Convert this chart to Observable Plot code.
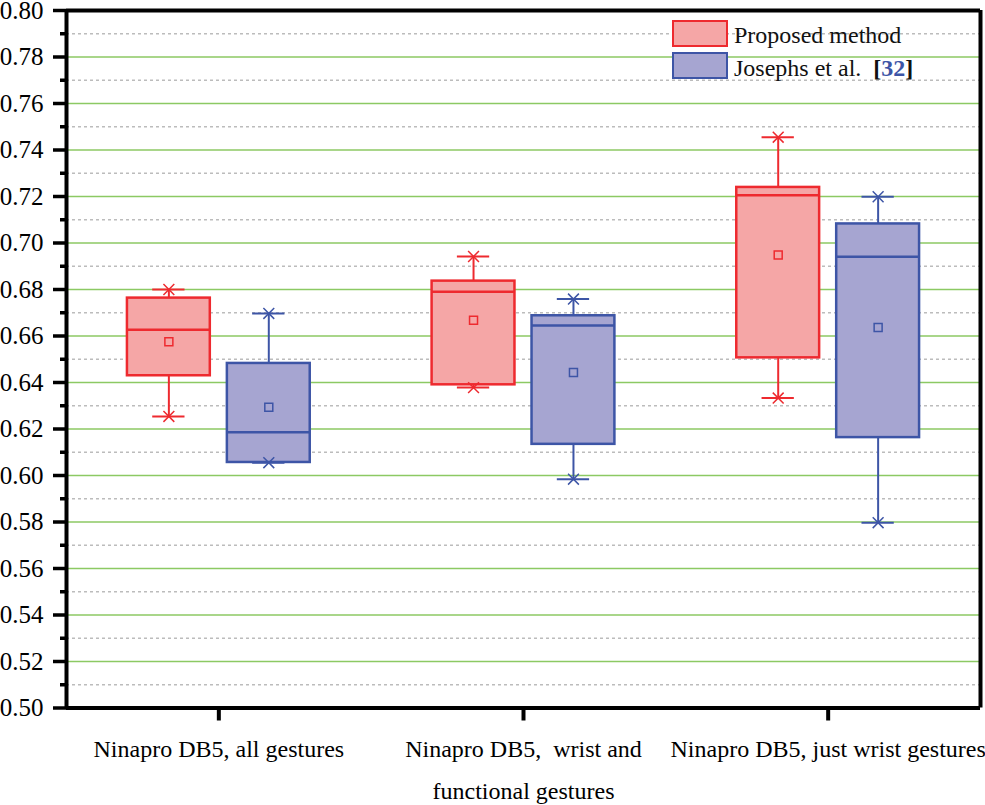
<!DOCTYPE html>
<html><head><meta charset="utf-8">
<script src="https://cdn.jsdelivr.net/npm/d3@7"></script>
<script src="https://cdn.jsdelivr.net/npm/@observablehq/plot@0.6"></script>
<style>
body{margin:0;background:#fff;}
#wrap{position:relative;width:985px;height:805px;}
#wrap svg text{font-family:"Liberation Serif",serif;}
.leg{position:absolute;font-family:"Liberation Serif",serif;font-size:24px;color:#111;white-space:pre;line-height:1;}
.sw{position:absolute;box-sizing:border-box;border-width:2px;border-style:solid;}
</style></head><body><div id="wrap"></div>
<script>
const categories = ["Ninapro DB5, all gestures", "Ninapro DB5,  wrist and\nfunctional gestures", "Ninapro DB5, just wrist gestures"];
const methods = ["Proposed method", "Josephs et al. [32]"];

const proposedMin    = [0.6254, 0.6378, 0.6333];
const proposedQ1     = [0.6429, 0.6390, 0.6506];
const proposedMedian = [0.6627, 0.6790, 0.7205];
const proposedMean   = [0.6575, 0.6668, 0.6948];
const proposedQ3     = [0.6763, 0.6836, 0.7239];
const proposedMax    = [0.6800, 0.6942, 0.7455];

const josephsMin    = [0.6055, 0.5984, 0.5797];
const josephsQ1     = [0.6056, 0.6134, 0.6163];
const josephsMedian = [0.6186, 0.6645, 0.6941];
const josephsMean   = [0.6294, 0.6443, 0.6637];
const josephsQ3     = [0.6482, 0.6687, 0.7082];
const josephsMax    = [0.6697, 0.6759, 0.7199];

const majorTicks = [0.50, 0.52, 0.54, 0.56, 0.58, 0.60, 0.62, 0.64, 0.66, 0.68, 0.70, 0.72, 0.74, 0.76, 0.78, 0.80];
const minorTicks = [0.51, 0.53, 0.55, 0.57, 0.59, 0.61, 0.63, 0.65, 0.67, 0.69, 0.71, 0.73, 0.75, 0.77, 0.79];
const gridTicks  = [0.52, 0.54, 0.56, 0.58, 0.60, 0.62, 0.64, 0.66, 0.68, 0.70, 0.72, 0.74, 0.76, 0.78];

// styles
const strokeColors = ["#ee2a2f", "#3d55a6"];
const fillColors = ["#f5a6a6", "#a6a5d1"];
const seriesOffset = [-0.164, 0.164];   // in category units
const boxHalf = 0.136;
const capHalf = 0.053;
const serif = "'Liberation Serif', serif";

const series = [
  {min: proposedMin, q1: proposedQ1, median: proposedMedian, mean: proposedMean, q3: proposedQ3, max: proposedMax},
  {min: josephsMin, q1: josephsQ1, median: josephsMedian, mean: josephsMean, q3: josephsQ3, max: josephsMax}
];

const rowsBy = series.map((s, mi) => categories.map((c, ci) => {
  const xc = ci + 0.5 + seriesOffset[mi];
  return {category: c, method: methods[mi], xc, xl: xc - boxHalf, xr: xc + boxHalf, capL: xc - capHalf, capR: xc + capHalf,
    min: s.min[ci], q1: s.q1[ci], median: s.median[ci], mean: s.mean[ci], q3: s.q3[ci], max: s.max[ci]};
}));

const marks = [
  Plot.ruleY(minorTicks, {stroke: "#bcbcbc", strokeWidth: 1.5, strokeDasharray: "3,3"}),
  Plot.ruleY(gridTicks, {stroke: "#8cc963", strokeWidth: 1.5})
];
rowsBy.forEach((rows, mi) => {
  const st = strokeColors[mi], fi = fillColors[mi];
  marks.push(
    Plot.ruleX(rows, {x: "xc", y1: "q3", y2: "max", stroke: st, strokeWidth: 2}),
    Plot.ruleX(rows, {x: "xc", y1: "min", y2: "q1", stroke: st, strokeWidth: 2}),
    Plot.ruleY(rows, {y: "max", x1: "capL", x2: "capR", stroke: st, strokeWidth: 2}),
    Plot.ruleY(rows, {y: "min", x1: "capL", x2: "capR", stroke: st, strokeWidth: 2}),
    Plot.rect(rows, {x1: "xl", x2: "xr", y1: "q1", y2: "q3", fill: fi, stroke: st, strokeWidth: 2.5}),
    Plot.ruleY(rows, {y: "median", x1: "xl", x2: "xr", stroke: st, strokeWidth: 2.5}),
    Plot.dot(rows, {x: "xc", y: "mean", symbol: "square", r: 4.5, stroke: st, strokeWidth: 1.5, fill: fi}),
    Plot.dot(rows, {x: "xc", y: "max", symbol: "times", r: 5, stroke: st, strokeWidth: 1.5}),
    Plot.dot(rows, {x: "xc", y: "min", symbol: "times", r: 5, stroke: st, strokeWidth: 1.5})
  );
});
marks.push(
  Plot.axisY(minorTicks, {tickSize: 6, text: null, strokeWidth: 3.5, stroke: "#000"}),
  Plot.axisY(majorTicks, {tickSize: 13, tickPadding: 10, strokeWidth: 3.5, stroke: "#000", fill: "#000", fontSize: 25, fontFamily: serif, tickFormat: d3.format(".2f")}),
  Plot.axisX([0.5, 1.5, 2.5], {tickSize: 13, tickPadding: 6, strokeWidth: 4, stroke: "#000", fill: "#000", fontSize: 24, fontFamily: serif, lineHeight: 1.75, tickFormat: (d, i) => categories[i]}),
  Plot.ruleX([0], {strokeWidth: 4, stroke: "#000"}),
  Plot.ruleX([3], {strokeWidth: 4, stroke: "#000"}),
  Plot.ruleY([0.5], {strokeWidth: 4, stroke: "#000"}),
  Plot.ruleY([0.8], {strokeWidth: 4, stroke: "#000"})
);

const chart = Plot.plot({
  width: 985, height: 805,
  marginLeft: 66, marginRight: 5, marginTop: 10, marginBottom: 97.5,
  x: {domain: [0, 3], axis: null},
  y: {domain: [0.5, 0.8], axis: null},
  style: {fontFamily: serif, background: "white", overflow: "visible"},
  marks
});
const wrap = document.getElementById("wrap");
wrap.appendChild(chart);

// legend overlay
function sw(left, top, i) {
  const d = document.createElement("div");
  d.className = "sw";
  Object.assign(d.style, {left: left + "px", top: top + "px", width: "56px", height: "27px", background: fillColors[i], borderColor: strokeColors[i]});
  wrap.appendChild(d);
}
sw(672, 20, 0);
sw(672, 52, 1);
const t1 = document.createElement("div");
t1.className = "leg"; t1.style.left = "734px"; t1.style.top = "23px";
t1.textContent = methods[0];
wrap.appendChild(t1);
const t2 = document.createElement("div");
t2.className = "leg"; t2.style.left = "734px"; t2.style.top = "56px";
t2.innerHTML = 'Josephs et al.  <b>[<span style="color:' + strokeColors[1] + '">32</span>]</b>';
wrap.appendChild(t2);
</script></body></html>
